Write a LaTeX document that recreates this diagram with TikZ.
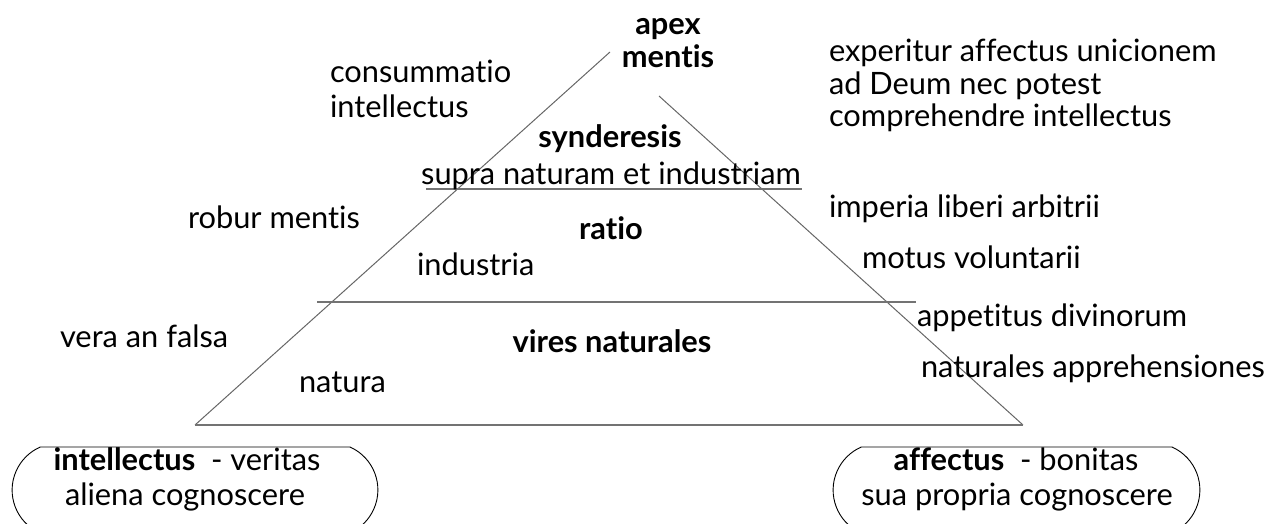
\documentclass[tikz,border=0pt]{standalone}
\usepackage{fontspec}
\setmainfont{Lato}[Ligatures={NoCommon}]
\begin{document}
\begin{tikzpicture}[x=1pt,y=-1pt,
  lbl/.style={inner sep=0pt,outer sep=0pt,font=\fontsize{30.8}{36}\selectfont},
  lw/.style={lbl,anchor=base west},
  lc/.style={lbl,anchor=base},
  bl/.style={lbl,anchor=base,font=\fontsize{30.8}{36}\selectfont\bfseries},
  side/.style={draw=black!60,line width=1pt},
  level/.style={draw=black!55,line width=2.2pt},
  basel/.style={draw=black!55,line width=1.5pt},
  pill/.style={draw=black,line width=0.9pt}]
\useasboundingbox (0,0) rectangle (1270,524);
% pyramid
\coordinate (L0) at (195,425);
\coordinate (L1) at (610,52);
\coordinate (R0) at (1023,425);
\coordinate (R1) at (659,96);
\coordinate (U0) at (426,189);
\coordinate (U1) at (802,189);
\coordinate (M0) at (317,302);
\coordinate (M1) at (916,302);
\draw[side] (L0) -- (L1);
\draw[side] (R1) -- (R0);
\draw[basel] (L0) -- (R0);
\draw[level] (U0) -- (U1);
\draw[level] (M0) -- (M1);
% labels
\node[bl] (apex) at (668,35) {apex};
\node[bl] (mentis) at (668,68) {mentis};
\node[lw] (cons1) at (330,83) {consummatio};
\node[lw] (cons2) at (330,118) {intellectus};
\node[lw] (exp1) at (829,62) {experitur affectus unicionem};
\node[lw] (exp2) at (829,95) {ad Deum nec potest};
\node[lw] (exp3) at (829,127) {comprehendre intellectus};
\node[bl] (synd) at (610,148) {synderesis};
\node[lc] (supra) at (611,185) {supra naturam et industriam};
\node[lw] (robur) at (188,229) {robur mentis};
\node[bl] (ratio) at (611,239) {ratio};
\node[lw] (imper) at (829,218) {imperia liberi arbitrii};
\node[lw] (indus) at (417,275) {industria};
\node[lw] (motus) at (862,268) {motus voluntarii};
\node[lw] (appet) at (917,326) {appetitus divinorum};
\node[lw] (vera) at (60,347) {vera an falsa};
\node[bl] (vires) at (612,352) {vires naturales};
\node[lw] (natap) at (921,377) {naturales apprehensiones};
\node[lw] (natura) at (299,392) {natura};
% boxes
\draw[pill] (40,447) -- (350,447) arc[start angle=-66,end angle=66,radius=47] -- (40,533) arc[start angle=114,end angle=246,radius=47] -- cycle;
\draw[pill] (861,447) -- (1172,447) arc[start angle=-66,end angle=66,radius=47] -- (861,533) arc[start angle=114,end angle=246,radius=47] -- cycle;
\node[lc] (int1) at (187,470) {\textbf{intellectus}\ \ - veritas};
\node[lc] (int2) at (185,505) {aliena cognoscere};
\node[lc] (aff1) at (1016,470) {\textbf{affectus}\ \ - bonitas};
\node[lc] (aff2) at (1017,505) {sua propria cognoscere};
\end{tikzpicture}
\end{document}
